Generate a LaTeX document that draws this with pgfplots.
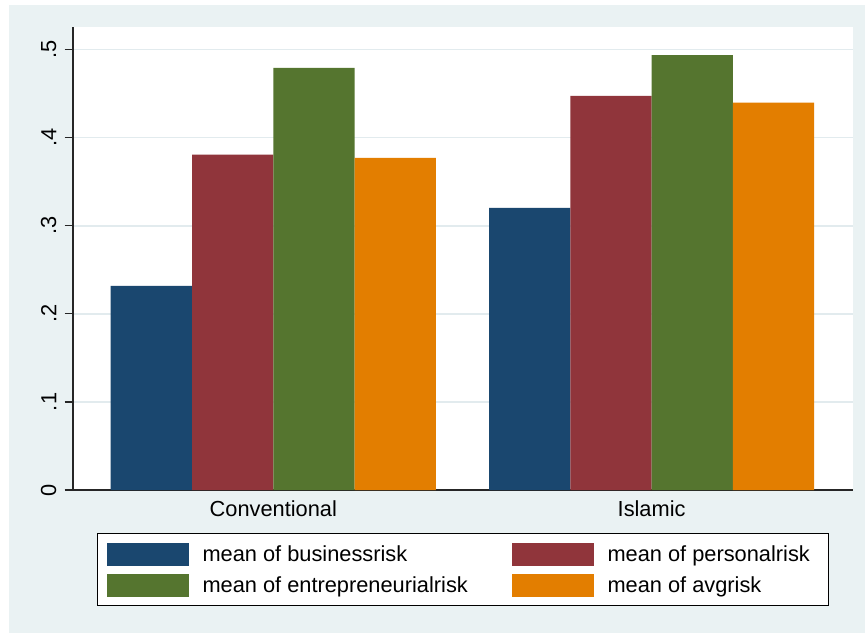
\documentclass[border=0pt]{standalone}
\usepackage{fontspec}
\setmainfont{Liberation Sans}
\usepackage{pgfplots}
\pgfplotsset{compat=1.18}

% Stata s2color palette
\definecolor{stnavy}{RGB}{26,71,111}
\definecolor{stmaroon}{RGB}{144,53,59}
\definecolor{stforest}{RGB}{85,117,47}
\definecolor{stdkorange}{RGB}{227,126,0}
\definecolor{stbg}{RGB}{234,242,243}
\definecolor{stgrid}{RGB}{226,235,238}

\newcommand{\lgstrut}{\rule[-1.2pt]{0pt}{10pt}}

\begin{document}
\begin{tikzpicture}
% outer page and graph region
\useasboundingbox (-36.5pt,-71.5pt) rectangle (396pt,245pt);
\fill[white] (-36.5pt,-71.5pt) rectangle (396pt,245pt);
\fill[stbg] (-32pt,-71.5pt) rectangle (396pt,242.5pt);
\begin{axis}[
  at={(0pt,0pt)}, anchor=south west,
  scale only axis,
  width=390pt, height=231.5pt,
  ybar=0pt, bar width=40.65pt,
  xmin=-0.5295, xmax=1.5324,
  ymin=0, ymax=0.5258,
  axis background/.style={fill=white},
  axis lines=left,
  axis line style={-, black!85, line width=0.6pt},
  xtick={0,1},
  xticklabels={Conventional,Islamic},
  ytick={0,0.1,0.2,0.3,0.4,0.5},
  yticklabels={0,.1,.2,.3,.4,.5},
  tick align=outside,
  major tick length=4.2pt,
  xtick style={draw=none},
  ytick style={black!85, line width=0.6pt},
  ymajorgrids,
  grid style={stgrid, line width=0.7pt},
  ticklabel style={font=\fontsize{10.9}{13}\selectfont, text=black},
  xticklabel style={inner sep=0pt, anchor=north},
  xticklabel shift=1.15pt,
  yticklabel style={rotate=90, anchor=south, inner sep=0pt},
  yticklabel shift=3.95pt,
  legend columns=2,
  legend style={
    at={(axis description cs:0.03077,-0.0929)}, anchor=north west,
    draw=black, line width=0.5pt, fill=white,
    inner sep=4.5pt,
    row sep=4pt, column sep=0pt,
    nodes={inner sep=0pt, anchor=center},
    font=\fontsize{10.9}{13}\selectfont,
  },
  legend image code/.code={%
    \fill[#1, draw=none] (0pt,-5.75pt) rectangle (41pt,5.75pt);},
]
\addplot[fill=stnavy, draw=none] coordinates {(0,0.2318) (1,0.3205)};
\addplot[fill=stmaroon, draw=none] coordinates {(0,0.3810) (1,0.4477)};
\addplot[fill=stforest, draw=none] coordinates {(0,0.4795) (1,0.4939)};
\addplot[fill=stdkorange, draw=none] coordinates {(0,0.3773) (1,0.4398)};
\addlegendentry{\makebox[161.5pt][l]{\hspace{7pt}\lgstrut mean of businessrisk}}
\addlegendentry{\makebox[113pt][l]{\hspace{7pt}\lgstrut mean of personalrisk}}
\addlegendentry{\makebox[161.5pt][l]{\hspace{7pt}\lgstrut mean of entrepreneurialrisk}}
\addlegendentry{\makebox[113pt][l]{\hspace{7pt}\lgstrut mean of avgrisk}}
\end{axis}
\end{tikzpicture}
\end{document}
